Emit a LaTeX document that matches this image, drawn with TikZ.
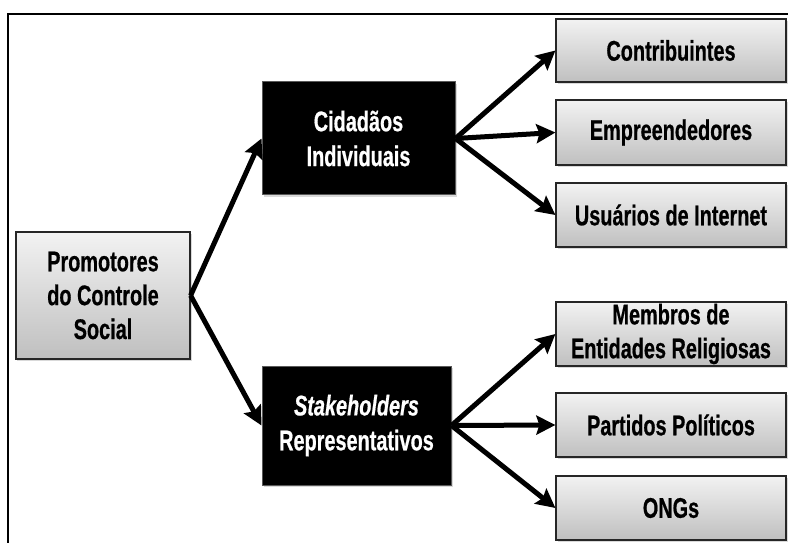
\documentclass[tikz,border=0pt]{standalone}
\usepackage{fontspec}
\usetikzlibrary{arrows.meta,shadows}
\newfontfamily\agency{Liberation Sans}[FakeStretch=0.7,BoldFeatures={FakeBold=0.6},BoldItalicFeatures={FakeBold=0.6}]
\begin{document}
\begin{tikzpicture}[x=1bp,y=-1bp,
  graybox/.style={draw=black!85,line width=1.2bp,top color=gray!10,bottom color=gray!50,
    drop shadow={opacity=0.3,shadow xshift=1.5bp,shadow yshift=-2bp},
    align=center,inner sep=0pt,font=\agency\bfseries\fontsize{28.5}{34}\selectfont},
  blackbox/.style={draw=black!65,line width=1bp,fill=black,text=white,
    drop shadow={opacity=0.3,shadow xshift=1.5bp,shadow yshift=-2bp},
    align=center,inner sep=0pt,font=\agency\bfseries\fontsize{28.5}{35}\selectfont},
  conn/.style={line width=5bp,-{Stealth[length=19bp,width=19bp,inset=3bp]}},
  frameline/.style={line width=1.5bp,black}]
\useasboundingbox (0,0) rectangle (788,543);
\draw[frameline] (8,543) -- (8,14) -- (788,14);
\node[graybox,minimum width=174bp,minimum height=127bp] (prom) at (103,295.5) {Promotores\\do Controle\\Social};
\node[blackbox,minimum width=193bp,minimum height=113bp] (cid) at (358.5,138.5) {Cidadãos\\Individuais};
\node[blackbox,minimum width=189bp,minimum height=119bp] (stk) at (356.5,425.5) {\itshape Stakeholders\\Representativos};
\node[graybox,minimum width=230bp,minimum height=63bp] (con) at (671,50.5) {Contribuintes};
\node[graybox,minimum width=230bp,minimum height=65bp] (emp) at (671,132.5) {Empreendedores};
\node[graybox,minimum width=230bp,minimum height=64bp] (usu) at (671,215) {Usuários de Internet};
\node[graybox,minimum width=230bp,minimum height=64bp] (mem) at (671,334) {Membros de\\Entidades Religiosas};
\node[graybox,minimum width=230bp,minimum height=64bp] (par) at (671,425) {Partidos Políticos};
\node[graybox,minimum width=230bp,minimum height=64bp] (ong) at (671,508) {ONGs};
\draw[conn] (prom.east) -- (cid.west);
\draw[conn] (prom.east) -- (stk.west);
\draw[conn] (cid.east) -- (con.west);
\draw[conn] (cid.east) -- (emp.west);
\draw[conn] (cid.east) -- (usu.west);
\draw[conn] (stk.east) -- (mem.west);
\draw[conn] (stk.east) -- (par.west);
\draw[conn] (stk.east) -- (ong.west);
\end{tikzpicture}
\end{document}
